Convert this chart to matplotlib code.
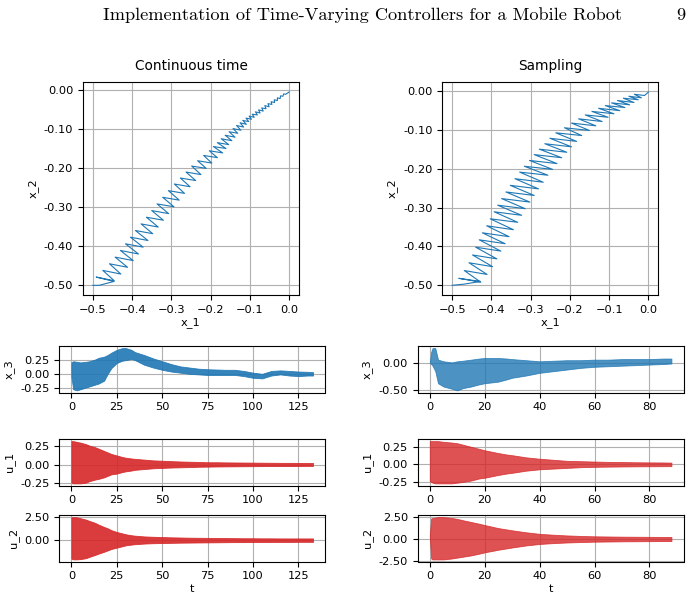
import numpy as np
import matplotlib
matplotlib.use('Agg')
import matplotlib.pyplot as plt
from matplotlib.ticker import MultipleLocator, FormatStrFormatter, ScalarFormatter

x1_ct = [-0.500, -0.484, -0.446,
         -0.4915, -0.4455, -0.4746, -0.4286, -0.4576, -0.4116, -0.4432, -0.3972,
         -0.4297, -0.3837, -0.4169, -0.3719, -0.4042, -0.3596, -0.3915, -0.3475,
         -0.3771, -0.3335, -0.3636, -0.3204, -0.3500, -0.3070, -0.3364, -0.2934,
         -0.3220, -0.2800, -0.3076, -0.2666, -0.2924, -0.2524, -0.2771, -0.2381,
         -0.2627, -0.2247, -0.2483, -0.2113, -0.2331, -0.1971, -0.2178, -0.1828,
         -0.2034, -0.1694, -0.193, -0.161, -0.183, -0.154, -0.173, -0.146,
         -0.163, -0.138, -0.153, -0.131, -0.143, -0.123, -0.134, -0.116,
         -0.125, -0.109, -0.118, -0.103, -0.110, -0.096, -0.102, -0.089,
         -0.094, -0.081, -0.086, -0.074, -0.078, -0.066, -0.070, -0.059,
         -0.062, -0.051, -0.054, -0.044, -0.046, -0.037, -0.038, -0.030,
         -0.030, -0.023, -0.022, -0.016, -0.014, -0.009, 0.0]
x2_ct = [-0.500, -0.500, -0.490,
         -0.4788, -0.4882, -0.4617, -0.4711, -0.4447, -0.4537, -0.4276, -0.4366,
         -0.4106, -0.4196, -0.3935, -0.4020, -0.3765, -0.3850, -0.3594, -0.3675,
         -0.3424, -0.3505, -0.3253, -0.3330, -0.3083, -0.3160, -0.2912, -0.2985,
         -0.2742, -0.2815, -0.2571, -0.2641, -0.2401, -0.2471, -0.2247, -0.2312,
         -0.2094, -0.2159, -0.1940, -0.2000, -0.1804, -0.1864, -0.1668, -0.1725,
         -0.1548, -0.1603, -0.144, -0.149, -0.134, -0.139, -0.124, -0.129,
         -0.115, -0.120, -0.106, -0.110, -0.098, -0.102, -0.090, -0.094,
         -0.083, -0.087, -0.077, -0.080, -0.071, -0.074, -0.066, -0.069,
         -0.061, -0.063, -0.055, -0.058, -0.050, -0.053, -0.045, -0.047,
         -0.039, -0.042, -0.034, -0.036, -0.029, -0.031, -0.024, -0.026,
         -0.019, -0.021, -0.014, -0.015, -0.009, -0.010, -0.004]

# phase trajectory, sampling
x1_s = [-0.500, -0.470, -0.428,
        -0.483, -0.427, -0.469, -0.411, -0.457, -0.397, -0.448, -0.386,
        -0.440, -0.376, -0.431, -0.365, -0.423, -0.355, -0.412, -0.344,
        -0.403, -0.333, -0.393, -0.323, -0.384, -0.314, -0.374, -0.302,
        -0.363, -0.291, -0.352, -0.280, -0.340, -0.268, -0.328, -0.256,
        -0.316, -0.244, -0.303, -0.233, -0.291, -0.221, -0.278, -0.208,
        -0.264, -0.196, -0.251, -0.183, -0.236, -0.170, -0.214, -0.150,
        -0.196, -0.134, -0.178, -0.118, -0.161, -0.103, -0.144, -0.088,
        -0.127, -0.073, -0.110, -0.060, -0.094, -0.048, -0.079, -0.037,
        -0.064, -0.026, -0.050, -0.018, -0.036, -0.010, 0.0]
x2_s = [-0.500, -0.497, -0.490,
        -0.482, -0.492, -0.462, -0.472, -0.442, -0.452, -0.422, -0.432,
        -0.402, -0.412, -0.383, -0.393, -0.365, -0.375, -0.347, -0.357,
        -0.329, -0.338, -0.311, -0.320, -0.294, -0.303, -0.277, -0.286,
        -0.260, -0.269, -0.243, -0.252, -0.226, -0.235, -0.209, -0.217,
        -0.194, -0.202, -0.179, -0.187, -0.164, -0.172, -0.150, -0.158,
        -0.136, -0.144, -0.122, -0.130, -0.108, -0.115, -0.095, -0.102,
        -0.083, -0.090, -0.072, -0.079, -0.062, -0.068, -0.053, -0.059,
        -0.045, -0.051, -0.038, -0.043, -0.031, -0.036, -0.025, -0.030,
        -0.019, -0.023, -0.014, -0.018, -0.009, -0.012, -0.003]

# time signals, continuous time: upper / lower envelope of the oscillation
t_ct = [0, 1, 3, 5, 8, 10, 13, 15, 18, 20, 22, 25, 28, 30, 33, 35, 40, 45,
        50, 55, 60, 65, 70, 75, 80, 85, 90, 95, 100, 105, 110, 115, 120, 125, 130, 133]
x3_ct_hi = [0.2, 0.22, 0.21, 0.2, 0.21, 0.22, 0.25, 0.28, 0.3, 0.33, 0.37, 0.42, 0.45, 0.45,
            0.42, 0.38, 0.33, 0.27, 0.22, 0.17, 0.13, 0.11, 0.09, 0.08, 0.075, 0.07, 0.07,
            0.05, 0.02, 0.0, 0.05, 0.06, 0.05, 0.04, 0.035, 0.03]
x3_ct_lo = [-0.05, -0.27, -0.29, -0.27, -0.24, -0.22, -0.19, -0.17, -0.12, 0.0, 0.1, 0.19,
            0.23, 0.24, 0.26, 0.24, 0.16, 0.11, 0.07, 0.04, 0.02, 0.0, -0.01, -0.02, -0.02,
            -0.02, -0.02, -0.04, -0.07, -0.08, -0.03, -0.01, -0.03, -0.04, -0.03, -0.03]
u1_ct_hi = [0.31, 0.31, 0.3, 0.29, 0.27, 0.25, 0.23, 0.21, 0.18, 0.16, 0.14, 0.12, 0.1, 0.09,
            0.08, 0.075, 0.065, 0.055, 0.05, 0.045, 0.04, 0.037, 0.034, 0.03, 0.03, 0.028,
            0.027, 0.026, 0.025, 0.024, 0.023, 0.022, 0.022, 0.021, 0.02, 0.02]
u1_ct_lo = [-0.24, -0.25, -0.25, -0.25, -0.24, -0.22, -0.2, -0.19, -0.17, -0.15, -0.13, -0.12,
            -0.1, -0.09, -0.08, -0.07, -0.06, -0.05, -0.045, -0.04, -0.037, -0.034, -0.03,
            -0.028, -0.026, -0.025, -0.024, -0.023, -0.022, -0.021, -0.02, -0.02, -0.02,
            -0.019, -0.018, -0.018]
u2_ct_hi = [2.5, 2.52, 2.5, 2.4, 2.25, 2.1, 1.9, 1.7, 1.45, 1.3, 1.1, 0.9, 0.75, 0.65, 0.55,
            0.5, 0.42, 0.38, 0.35, 0.32, 0.3, 0.28, 0.27, 0.26, 0.25, 0.24, 0.23, 0.22, 0.22,
            0.21, 0.21, 0.2, 0.2, 0.2, 0.2, 0.2]
u2_ct_lo = [-2.0, -2.08, -2.08, -2.05, -1.95, -1.8, -1.6, -1.45, -1.25, -1.1, -0.95, -0.8,
            -0.65, -0.55, -0.47, -0.43, -0.36, -0.32, -0.3, -0.28, -0.26, -0.25, -0.24, -0.23,
            -0.22, -0.21, -0.2, -0.2, -0.19, -0.19, -0.18, -0.18, -0.18, -0.17, -0.17, -0.17]

# time signals, sampling
t_s = [0, 0.5, 1, 2, 3, 5, 8, 10, 12, 15, 18, 20, 25, 28, 30, 35, 40, 45, 50, 55, 60, 65,
       70, 75, 80, 85, 88]
x3_s_hi = [0.0, 0.2, 0.27, 0.27, 0.06, 0.03, 0.01, 0.03, 0.04, 0.06, 0.08, 0.09, 0.09, 0.08,
           0.07, 0.05, 0.03, 0.04, 0.05, 0.05, 0.06, 0.06, 0.07, 0.07, 0.07, 0.08, 0.08]
x3_s_lo = [0.0, -0.02, -0.05, -0.15, -0.37, -0.43, -0.47, -0.5, -0.46, -0.43, -0.39, -0.37,
           -0.34, -0.3, -0.27, -0.23, -0.18, -0.15, -0.12, -0.09, -0.07, -0.06, -0.05, -0.04,
           -0.03, -0.02, -0.01]
u1_s_hi = [0.33, 0.33, 0.33, 0.33, 0.33, 0.32, 0.31, 0.3, 0.28, 0.25, 0.22, 0.2, 0.16, 0.14,
           0.13, 0.1, 0.08, 0.065, 0.05, 0.045, 0.04, 0.035, 0.033, 0.03, 0.028, 0.027, 0.025]
u1_s_lo = [-0.24, -0.25, -0.26, -0.27, -0.27, -0.27, -0.27, -0.26, -0.25, -0.23, -0.2, -0.19,
           -0.15, -0.13, -0.12, -0.09, -0.07, -0.06, -0.05, -0.04, -0.035, -0.032, -0.03,
           -0.028, -0.027, -0.026, -0.025]
u2_s_hi = [0.4, 2.35, 2.4, 2.45, 2.5, 2.5, 2.4, 2.3, 2.15, 1.95, 1.75, 1.6, 1.25, 1.1, 1.0,
           0.78, 0.6, 0.5, 0.42, 0.36, 0.32, 0.3, 0.28, 0.27, 0.26, 0.25, 0.25]
u2_s_lo = [0.4, -2.2, -2.3, -2.3, -2.3, -2.3, -2.2, -2.1, -2.0, -1.85, -1.65, -1.5, -1.2,
           -1.05, -0.95, -0.72, -0.55, -0.45, -0.38, -0.33, -0.29, -0.27, -0.25, -0.24,
           -0.23, -0.22, -0.22]

W, H = 696, 601
BLUE = '#1f77b4'
RED = '#d62728'
FS = 8.2

fig = plt.figure(figsize=(W / 100, H / 100), dpi=100)

fig.text(103 / W, 1 - 20 / H, 'Implementation of Time-Varying Controllers for a Mobile Robot',
         fontfamily='cmr10', fontsize=13.2, va='baseline', ha='left')
fig.text(685 / W, 1 - 20 / H, '9', fontfamily='cmr10', fontsize=13.2, va='baseline', ha='right')


def box(left, top, w, h):
    return fig.add_axes([left / W, 1 - (top + h) / H, w / W, h / H])


def style(ax, ystep, xstep=None):
    ax.grid(True, color='#b0b0b0', lw=0.8)
    ax.set_axisbelow(True)
    ax.yaxis.set_major_locator(MultipleLocator(ystep))
    ax.yaxis.set_major_formatter(FormatStrFormatter('%.2f'))
    if xstep:
        ax.xaxis.set_major_locator(MultipleLocator(xstep))
    ax.tick_params(labelsize=FS, length=3.5, width=0.8)


cols = [
    (83, 59.3, 'Continuous time', x1_ct, x2_ct, t_ct, 0.9,
     [(x3_ct_lo, x3_ct_hi, BLUE, 'x_3', 0.25), (u1_ct_lo, u1_ct_hi, RED, 'u_1', 0.25),
      (u2_ct_lo, u2_ct_hi, RED, 'u_2', 2.5)], 25),
    (442.3, 417.7, 'Sampling', x1_s, x2_s, t_s, 0.8,
     [(x3_s_lo, x3_s_hi, BLUE, 'x_3', 0.5), (u1_s_lo, u1_s_hi, RED, 'u_1', 0.25),
      (u2_s_lo, u2_s_hi, RED, 'u_2', 2.5)], 20),
]
tops = [346, 439, 515]

for pl, tl, title, xa, ya, t, alpha, series, xstep in cols:
    ax = box(pl, 82.3, 216, 212.7)
    ax.plot(xa, ya, color=BLUE, lw=0.8)
    ax.set_title(title, fontsize=9.8, pad=9)
    ax.set_xlabel('x_1', fontsize=FS, labelpad=2)
    ax.set_ylabel('x_2', fontsize=FS)
    style(ax, 0.1, 0.1)
    ax.xaxis.set_major_formatter(ScalarFormatter())

    for (lo, hi, c, name, ystep), top in zip(series, tops):
        ax = box(tl, top, 265.8, 46.5)
        ax.fill_between(t, lo, hi, color=c, lw=0.6, alpha=alpha)
        ax.set_ylabel(name, fontsize=FS)
        style(ax, ystep, xstep)
    ax.set_xlabel('t', fontsize=FS, labelpad=2)

fig.savefig('out.png', dpi=100)
